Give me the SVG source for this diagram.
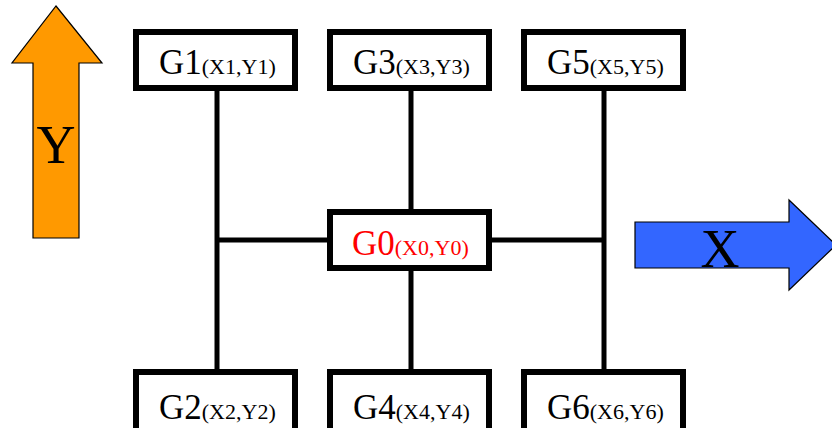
<svg xmlns="http://www.w3.org/2000/svg" width="832" height="428" viewBox="0 0 832 428">
<style>
.box{fill:#fff;stroke:#000;stroke-width:6}
.ln{stroke:#000;stroke-width:5;fill:none}
.t{font-family:"Liberation Serif","Times New Roman",serif;font-size:35px;fill:#000}
.s{font-size:22px}
.ax{font-family:"Liberation Serif","Times New Roman",serif;font-size:54px;fill:#000;text-anchor:middle}
</style>
<rect width="832" height="428" fill="#fff"/>
<g id="connectors">
<line class="ln" x1="217" y1="88" x2="217" y2="372"/>
<line class="ln" x1="604" y1="88" x2="604" y2="372"/>
<line class="ln" x1="411" y1="88" x2="411" y2="372"/>
<line class="ln" x1="217" y1="240" x2="604" y2="240"/>
</g>
<g id="axisY">
<polygon points="56,6 102,63 79,63 79,238 33,238 33,63 12,63" fill="#FF9900" stroke="#000" stroke-width="1.2"/>
<text class="ax" x="56" y="163">Y</text>
</g>
<g id="axisX">
<polygon points="635,222 789,222 789,200 836,245 789,290 789,268 635,268" fill="#3366FF" stroke="#000" stroke-width="1.2"/>
<text class="ax" x="720" y="267">X</text>
</g>
<g id="G1"><rect class="box" x="136" y="32" width="159" height="56"/><text class="t" x="159" y="74">G1<tspan class="s">(X1,Y1)</tspan></text></g>
<g id="G3"><rect class="box" x="330" y="32" width="159" height="56"/><text class="t" x="353" y="74">G3<tspan class="s">(X3,Y3)</tspan></text></g>
<g id="G5"><rect class="box" x="524" y="32" width="159" height="56"/><text class="t" x="547" y="74">G5<tspan class="s">(X5,Y5)</tspan></text></g>
<g id="G0"><rect class="box" x="330" y="212" width="159" height="56"/><text class="t" x="352" y="255" style="fill:#FF0000">G0<tspan class="s">(X0,Y0)</tspan></text></g>
<g id="G2"><rect class="box" x="136" y="372" width="159" height="62"/><text class="t" x="159" y="419">G2<tspan class="s">(X2,Y2)</tspan></text></g>
<g id="G4"><rect class="box" x="330" y="372" width="159" height="62"/><text class="t" x="353" y="419">G4<tspan class="s">(X4,Y4)</tspan></text></g>
<g id="G6"><rect class="box" x="524" y="372" width="159" height="62"/><text class="t" x="547" y="419">G6<tspan class="s">(X6,Y6)</tspan></text></g>
</svg>
